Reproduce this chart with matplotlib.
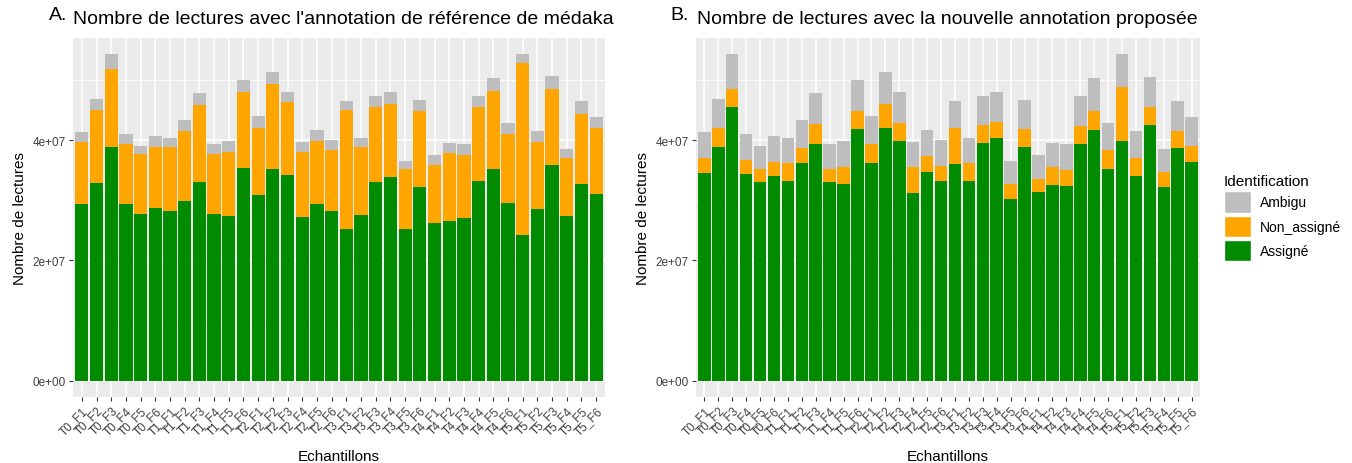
import numpy as np
import matplotlib.pyplot as plt
from matplotlib.patches import Patch

plt.rcParams['font.family'] = ['Liberation Sans', 'DejaVu Sans']

# echantillons T0..T5, F1..F6
echantillons = [f"T{t}_F{f}" for t in range(6) for f in range(1, 7)]

# annotation de reference (A), en 1e7 lectures
ref_assigne = [2.94, 3.29, 3.88, 2.94, 2.77, 2.87, 2.82, 2.99, 3.30, 2.78, 2.74, 3.54,
               3.09, 3.52, 3.43, 2.72, 2.94, 2.83, 2.53, 2.76, 3.30, 3.39, 2.52, 3.23,
               2.63, 2.65, 2.71, 3.32, 3.52, 2.95, 2.43, 2.85, 3.59, 2.74, 3.28, 3.10]
ref_non_assigne = [1.03, 1.21, 1.31, 0.99, 1.00, 1.02, 1.06, 1.16, 1.29, 0.99, 1.07, 1.26,
                   1.11, 1.41, 1.20, 1.09, 1.05, 1.00, 1.98, 1.12, 1.25, 1.21, 1.00, 1.25,
                   0.96, 1.14, 1.05, 1.23, 1.30, 1.16, 2.86, 1.12, 1.27, 0.96, 1.16, 1.10]
ref_ambigu = [0.17, 0.19, 0.24, 0.18, 0.14, 0.18, 0.16, 0.19, 0.19, 0.16, 0.17, 0.21,
              0.20, 0.21, 0.18, 0.16, 0.18, 0.17, 0.14, 0.15, 0.19, 0.20, 0.14, 0.19,
              0.16, 0.17, 0.17, 0.19, 0.21, 0.18, 0.14, 0.18, 0.21, 0.16, 0.21, 0.18]

# nouvelle annotation (B)
new_assigne = [3.46, 3.89, 4.56, 3.44, 3.30, 3.40, 3.33, 3.62, 3.93, 3.30, 3.28, 4.18,
               3.62, 4.20, 3.98, 3.13, 3.48, 3.33, 3.60, 3.32, 3.95, 4.04, 3.02, 3.89,
               3.14, 3.26, 3.24, 3.93, 4.17, 3.53, 3.98, 3.40, 4.25, 3.22, 3.87, 3.64]
new_non_assigne = [0.25, 0.31, 0.29, 0.23, 0.23, 0.24, 0.29, 0.25, 0.34, 0.23, 0.27, 0.31,
                   0.31, 0.40, 0.31, 0.42, 0.25, 0.24, 0.60, 0.30, 0.30, 0.27, 0.26, 0.30,
                   0.21, 0.29, 0.27, 0.30, 0.32, 0.30, 0.91, 0.30, 0.30, 0.25, 0.28, 0.27]
new_ambigu = [0.43, 0.49, 0.58, 0.44, 0.38, 0.43, 0.42, 0.47, 0.51, 0.40, 0.43, 0.52,
              0.47, 0.54, 0.52, 0.42, 0.44, 0.43, 0.45, 0.41, 0.49, 0.49, 0.38, 0.48,
              0.40, 0.41, 0.42, 0.51, 0.54, 0.46, 0.54, 0.45, 0.51, 0.39, 0.50, 0.47]

categories = ["Ambigu", "Non_assigné", "Assigné"]
couleurs = {"Ambigu": "#BEBEBE", "Non_assigné": "#FFA500", "Assigné": "#008B00"}

W, H = 1352, 464
fig = plt.figure(figsize=(W / 100, H / 100), dpi=100)


def panneau(rect, assigne, non_assigne, ambigu, lettre, titre, lx, tx):
    ax = fig.add_axes(rect)
    ax.set_facecolor("#EBEBEB")
    x = np.arange(len(echantillons))
    a = np.array(assigne) * 1e7
    n = np.array(non_assigne) * 1e7
    m = np.array(ambigu) * 1e7
    ax.bar(x, a, width=0.9, color=couleurs["Assigné"], zorder=3)
    ax.bar(x, n, bottom=a, width=0.9, color=couleurs["Non_assigné"], zorder=3)
    ax.bar(x, m, bottom=a + n, width=0.9, color=couleurs["Ambigu"], zorder=3)
    ymax = (a + n + m).max()
    ax.set_xlim(-0.6, len(x) - 0.4)
    ax.set_ylim(-0.05 * ymax, 1.05 * ymax)
    ax.set_xticks(x)
    ax.set_xticklabels(echantillons, rotation=45, ha="right", rotation_mode="anchor",
                       fontsize=8.5, color="#404040")
    ax.set_yticks([0, 2e7, 4e7])
    ax.set_yticklabels(["0e+00", "2e+07", "4e+07"], fontsize=8.5, color="#404040")
    ax.set_yticks([1e7, 3e7, 5e7], minor=True)
    ax.tick_params(which="major", length=3, color="#333333", width=0.8, pad=2)
    ax.tick_params(which="minor", length=0)
    ax.grid(which="major", color="white", linewidth=1.1, zorder=0)
    ax.grid(which="minor", axis="y", color="white", linewidth=0.55, zorder=0)
    for s in ax.spines.values():
        s.set_visible(False)
    ax.set_xlabel("Echantillons", fontsize=11, labelpad=9)
    ax.set_ylabel("Nombre de lectures", fontsize=11, labelpad=4)
    fig.text(lx / W, 1 - 15 / H, lettre, fontsize=14, va="center", ha="left")
    fig.text(tx / W, 1 - 19 / H, titre, fontsize=14, va="center", ha="left")
    return ax


panneau([73 / W, 1 - 398 / H, 532 / W, 359 / H], ref_assigne, ref_non_assigne, ref_ambigu,
        "A.", "Nombre de lectures avec l'annotation de référence de médaka", 49, 73)
panneau([696 / W, 1 - 398 / H, 504 / W, 359 / H], new_assigne, new_non_assigne, new_ambigu,
        "B.", "Nombre de lectures avec la nouvelle annotation proposée", 670, 697)

handles = [Patch(facecolor=couleurs[c], edgecolor="white", label=c) for c in categories]
fig.legend(handles=handles, title="Identification", loc="upper left",
           bbox_to_anchor=(1211 / W, 1 - 163 / H), frameon=False, fontsize=10,
           title_fontsize=11, handlelength=2.0, handleheight=2.0, handletextpad=0.6,
           labelspacing=0.2, alignment="left")

fig.savefig("out.png", dpi=100)
